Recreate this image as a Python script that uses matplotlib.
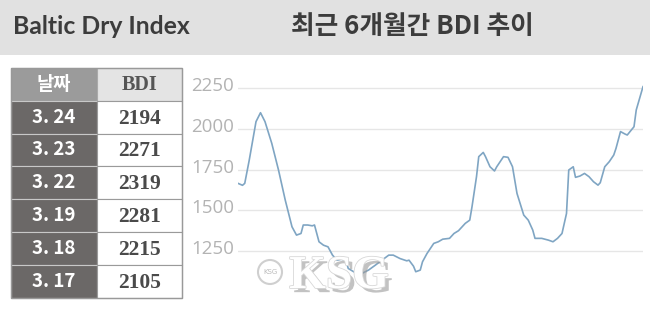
import matplotlib
matplotlib.use("Agg")
import matplotlib.pyplot as plt
import matplotlib.transforms as mtransforms
import matplotlib.patheffects as pe
from matplotlib.patches import Rectangle, Circle

# BDI over the last ~6 months, x in calendar days
days = [0, 2, 3, 5, 8, 10, 12, 15, 18, 21, 24, 26, 28, 29, 31, 33, 34, 36, 38, 40,
        42, 44, 46, 48, 49, 52, 55, 58, 61, 64, 67, 69, 72, 75, 76, 78, 79, 81, 82, 84,
        87, 89, 91, 94, 96, 98, 101, 103, 104, 106, 107, 109, 110, 112, 114, 115, 118, 120, 122, 124,
        127, 129, 131, 132, 135, 138, 140, 142, 144, 146, 147, 149, 150, 152, 154, 156, 158, 160, 161, 163,
        165, 167, 168, 170, 172, 173, 176, 177, 180]
bdi = [1666, 1654, 1666, 1809, 2045, 2100, 2045, 1912, 1748, 1563, 1399, 1348, 1358, 1410, 1410, 1405, 1410, 1307, 1286, 1276,
       1225, 1194, 1200, 1190, 1143, 1118, 1112, 1133, 1163, 1194, 1225, 1225, 1204, 1190, 1194, 1157, 1123, 1133, 1184, 1235,
       1297, 1307, 1323, 1328, 1358, 1375, 1420, 1440, 1522, 1707, 1830, 1856, 1830, 1768, 1742, 1768, 1830, 1826, 1768, 1604,
       1471, 1440, 1379, 1328, 1328, 1317, 1307, 1328, 1358, 1481, 1748, 1768, 1703, 1711, 1727, 1707, 1676, 1655, 1670, 1768,
       1799, 1840, 1881, 1984, 1969, 1963, 2014, 2117, 2260]
yticks = [1250, 1500, 1750, 2000, 2250]

# recent values shown in the table
table_dates = ["3. 24", "3. 23", "3. 22", "3. 19", "3. 18", "3. 17"]
table_bdi = [2194, 2271, 2319, 2281, 2215, 2105]

W, H = 650, 310
fig = plt.figure(figsize=(W / 100, H / 100), dpi=100)
fig.patch.set_facecolor("white")

# pixel space layer for header + table
bg = fig.add_axes([0, 0, 1, 1])
bg.set_xlim(0, W)
bg.set_ylim(H, 0)
bg.axis("off")

bg.add_patch(Rectangle((0, 0), W, 55, facecolor="#e1e1e1", edgecolor="none"))
bg.text(13, 27, "Baltic Dry Index", fontsize=17.8, fontweight="bold",
        family=["Lato", "DejaVu Sans"], color="#3c3c3c", va="center", ha="left")
bg.text(291, 26, "최근 6개월간 BDI 추이", fontsize=18.5, fontweight="bold",
        family=["Noto Sans CJK KR", "DejaVu Sans"], color="#3c3c3c", va="center", ha="left")

# table
x0, x1, x2 = 10.7, 96.7, 181.7
top = 67.7
rh = 32.9
bg.add_patch(Rectangle((x0, top), x1 - x0, rh, facecolor="#9b9b9b", edgecolor="#aaaaaa", lw=0.8))
bg.add_patch(Rectangle((x1, top), x2 - x1, rh, facecolor="#e4e4e4", edgecolor="#aaaaaa", lw=0.8))
bg.text((x0 + x1) / 2, top + rh / 2, "날짜", fontsize=13.5, fontweight="bold", color="white",
        family=["Noto Sans CJK KR", "DejaVu Sans"], ha="center", va="center")
bg.text((x1 + x2) / 2, top + rh / 2 + 1, "BDI", fontsize=14.5, fontweight="bold", color="#555555",
        family=["Liberation Serif", "DejaVu Serif"], ha="center", va="center")
for i, (d, v) in enumerate(zip(table_dates, table_bdi)):
    y = top + rh * (i + 1)
    bg.add_patch(Rectangle((x0, y), x1 - x0, rh, facecolor="#6b6867", edgecolor="#c8c8c8", lw=0.8))
    bg.add_patch(Rectangle((x1, y), x2 - x1, rh, facecolor="white", edgecolor="#9a9a9a", lw=0.8))
    bg.text((x0 + x1) / 2, y + rh / 2, d, fontsize=13.5, fontweight="bold", color="white",
            family=["Noto Sans CJK KR", "DejaVu Sans"], ha="center", va="center")
    bg.text((x1 + x2) / 2, y + rh / 2 + 1.5, str(v), fontsize=15.5, fontweight="bold", color="#4a4a4a",
            family=["Liberation Serif", "DejaVu Serif"], ha="center", va="center")
bg.add_patch(Rectangle((x0, top), x2 - x0, rh * 7, facecolor="none", edgecolor="#999999", lw=1))

# line chart
ax = fig.add_axes([238 / W, (H - 295) / H, 405 / W, 215 / H])
ax.set_facecolor("none")
ax.plot(days, bdi, color="#7fa5c3", lw=1.2, solid_joinstyle="round", zorder=3)
ax.set_xlim(0, 180)
ax.set_ylim(980, 2301)
ax.set_yticks(yticks)
ax.set_xticks([])
ax.grid(axis="y", color="#e6e6e6", lw=1)
ax.set_axisbelow(True)
for s in ax.spines.values():
    s.set_visible(False)
ax.tick_params(axis="y", length=0, pad=3, labelsize=13.5, labelcolor="#b3b3b3")
shift = mtransforms.ScaledTranslation(0, 3 / 72, fig.dpi_scale_trans)
for lab in ax.get_yticklabels():
    lab.set_family(["Open Sans", "DejaVu Sans"])
    lab.set_transform(lab.get_transform() + shift)

# KSG watermark
bg.add_patch(Circle((270, 272), 12, facecolor="white", edgecolor="#cfcfcf", lw=1.5, zorder=5))
bg.text(270, 272, "KSG", fontsize=5, color="#bbbbbb", ha="center", va="center", zorder=6)
bg.text(339, 277, "KSG", fontsize=34, fontweight="bold", color="white",
        family=["Liberation Serif", "DejaVu Serif"], ha="center", va="center", zorder=6,
        path_effects=[pe.withSimplePatchShadow(offset=(3, -3), shadow_rgbFace="#9a9a9a", alpha=0.6),
                      pe.withStroke(linewidth=1.2, foreground="#d8d8d8")])
bg.set_zorder(4)
bg.patch.set_visible(False)
ax.set_zorder(3)

fig.savefig("out.png", dpi=100)
